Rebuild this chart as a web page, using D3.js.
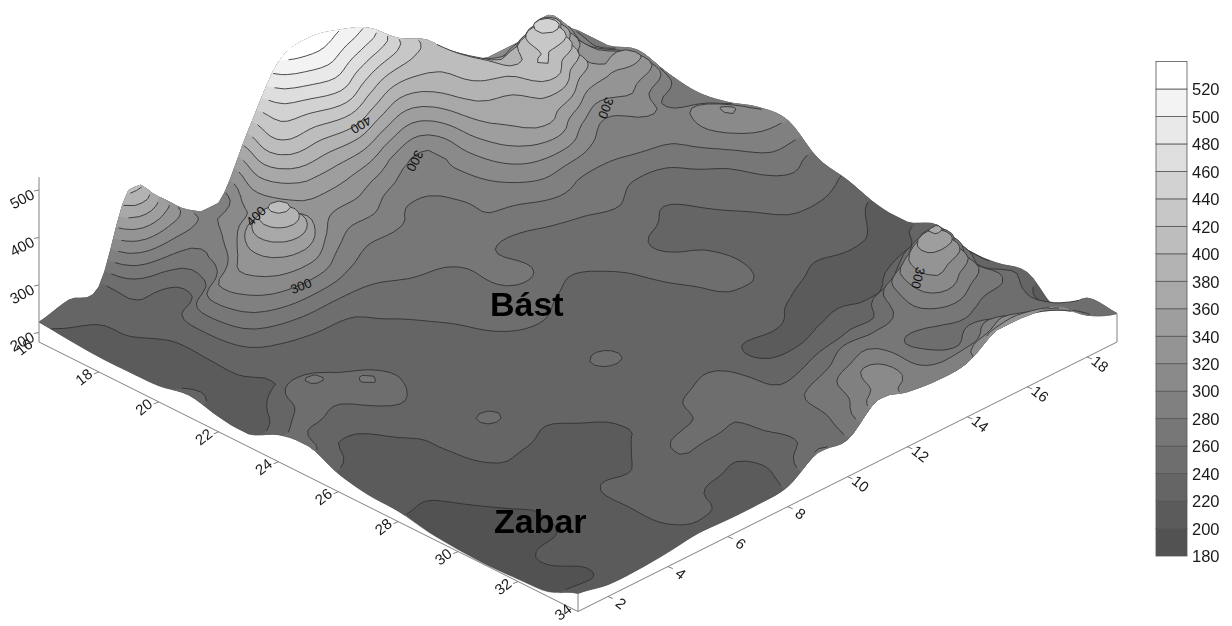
<!DOCTYPE html>
<html>
<head>
<meta charset="utf-8">
<script src="https://cdn.jsdelivr.net/npm/d3@7"></script>
<style>
  html, body { margin: 0; background: #fff; }
  svg { display: block; }
  text { font-family: "Liberation Sans", Arial, sans-serif; }
</style>
</head>
<body>
<div id="chart"></div>
<script>
  'use strict';

  // Elevation, one array per y value, x running 16..34.
  var xValues = d3.range( 16, 35 );
  var yValues = d3.range( 1, 20 );

  var rowY1 = [ 222, 216, 212, 212, 214, 226, 212, 207, 237, 245, 218, 205, 202, 190, 184, 182, 185, 190, 218 ];
  var rowY2 = [ 237, 221, 219, 210, 210, 212, 210, 228, 245, 220, 212, 206, 201, 196, 190, 190, 205, 197, 205 ];
  var rowY3 = [ 233, 240, 232, 232, 232, 228, 221, 262, 241, 224, 218, 215, 212, 205, 199, 198, 206, 208, 205 ];
  var rowY4 = [ 405, 258, 236, 300, 288, 241, 228, 241, 262, 241, 224, 225, 222, 215, 203, 210, 212, 214, 210 ];
  var rowY5 = [ 359, 278, 285, 335, 320, 250, 228, 232, 238, 230, 227, 243, 224, 213, 212, 222, 223, 222, 218 ];
  var rowY6 = [ 300, 300, 335, 411, 330, 250, 235, 232, 232, 229, 226, 230, 219, 214, 212, 222, 228, 224, 216 ];
  var rowY7 = [ 283, 330, 330, 345, 295, 256, 243, 237, 233, 232, 231, 230, 225, 218, 222, 239, 235, 208, 216 ];
  var rowY8 = [ 405, 425, 357, 312, 277, 264, 252, 245, 241, 235, 232, 234, 230, 226, 226, 246, 224, 214, 222 ];
  var rowY9 = [ 517, 440, 355, 308, 276, 265, 257, 255, 250, 236, 233, 243, 230, 228, 248, 241, 238, 235, 262 ];
  var rowY10 = [ 536, 470, 345, 286, 275, 268, 264, 268, 243, 234, 232, 232, 231, 238, 252, 248, 248, 250, 258 ];
  var rowY11 = [ 521, 425, 310, 285, 277, 277, 250, 248, 236, 234, 233, 232, 232, 234, 236, 243, 268, 278, 310 ];
  var rowY12 = [ 494, 385, 300, 305, 300, 280, 258, 248, 241, 237, 235, 233, 225, 217, 230, 250, 282, 310, 296 ];
  var rowY13 = [ 441, 400, 380, 362, 340, 295, 263, 252, 245, 245, 241, 238, 228, 216, 232, 265, 285, 285, 289 ];
  var rowY14 = [ 405, 405, 410, 375, 365, 285, 267, 250, 233, 242, 246, 238, 219, 219, 238, 262, 262, 273, 294 ];
  var rowY15 = [ 338, 367, 395, 420, 325, 283, 256, 238, 232, 233, 232, 226, 212, 222, 243, 270, 254, 268, 332 ];
  var rowY16 = [ 306, 352, 458, 365, 295, 290, 258, 250, 241, 235, 232, 219, 212, 218, 317, 320, 258, 294, 330 ];
  var rowY17 = [ 306, 395, 342, 342, 315, 290, 284, 259, 250, 243, 232, 222, 208, 260, 363, 290, 245, 270, 317 ];
  var rowY18 = [ 332, 310, 320, 345, 272, 300, 322, 295, 265, 245, 227, 218, 218, 300, 258, 262, 245, 254, 268 ];
  var rowY19 = [ 268, 268, 290, 273, 264, 275, 296, 300, 252, 237, 216, 212, 237, 216, 220, 232, 188, 241, 240 ];

  var elevationRows = [ rowY1, rowY2, rowY3, rowY4, rowY5, rowY6, rowY7, rowY8, rowY9, rowY10,
    rowY11, rowY12, rowY13, rowY14, rowY15, rowY16, rowY17, rowY18, rowY19 ];

  // Contour levels and the grey of the band that starts at each level.
  var levels = d3.range( 180, 540, 20 );
  var bandGreys = [ '#525252', '#5b5b5b', '#656565', '#6e6e6e', '#777777', '#808080', '#8a8a8a', '#949494', '#9e9e9e',
    '#a8a8a8', '#b3b3b3', '#bdbdbd', '#c7c7c7', '#d2d2d2', '#dedede', '#e9e9e9', '#f3f3f3', '#ffffff' ];

  var legendTicks = d3.range( 180, 540, 20 );
  var heightTicks = [ 200, 300, 400, 500 ];
  var xTicks = d3.range( 16, 36, 2 );
  var yTicks = d3.range( 2, 20, 2 );

  // Text on the surface, with the contour labels placed along their lines.
  var placeNames = [
    { label: 'Bást', x: 490, y: 316 },
    { label: 'Zabar', x: 494, y: 533 }
  ];
  var contourLabels = [
    { label: '300', x: 301, y: 286, angle: -22 },
    { label: '300', x: 415, y: 161, angle: 118 },
    { label: '400', x: 361, y: 125, angle: 148 },
    { label: '300', x: 606, y: 108, angle: 112 },
    { label: '300', x: 918, y: 278, angle: 105 },
    { label: '400', x: 256, y: 216, angle: -45 }
  ];

  var width = 1232;
  var height = 626;

  // Oblique view: x runs down to the right, y up to the right, elevation straight up.
  var scaleX = d3.scaleLinear().domain( [ 16, 34 ] ).range( [ 0, 539 ] );
  var scaleY = d3.scaleLinear().domain( [ 1, 19 ] ).range( [ 0, 539 ] );
  var scaleZ = d3.scaleLinear().domain( [ 180, 540 ] ).range( [ 0, 171 ] );
  var origin = { left: 39, top: 342 };

  function project( x, y, z ) {
    return [
      origin.left + scaleX( x ) + scaleY( y ),
      origin.top + scaleX( x ) / 2 - scaleY( y ) / 2 - scaleZ( z )
    ];
  }

  // Resample the read grid through its own nodes so the contours run smooth,
  // held inside each cell's corner range so that the steep peaks do not ring.
  var refine = 5;
  var nCols = ( xValues.length - 1 ) * refine + 1;
  var nRows = ( yValues.length - 1 ) * refine + 1;

  function spline( a, b, c, d, t ) {
    return b + 0.5 * t * ( c - a + t * ( 2 * a - 5 * b + 4 * c - d + t * ( 3 * ( b - c ) + d - a ) ) );
  }

  function node( i, j ) {
    var ii = Math.max( 0, Math.min( xValues.length - 1, i ) );
    var jj = Math.max( 0, Math.min( yValues.length - 1, j ) );
    return elevationRows[ jj ][ ii ];
  }

  function resample() {
    var out = new Float64Array( nCols * nRows );
    d3.range( nRows ).forEach( function( j ) {
      var j0 = Math.min( Math.floor( j / refine ), yValues.length - 2 ), ty = j / refine - j0;
      d3.range( nCols ).forEach( function( i ) {
        var i0 = Math.min( Math.floor( i / refine ), xValues.length - 2 ), tx = i / refine - i0;
        var across = [ -1, 0, 1, 2 ].map( function( dj ) {
          return spline( node( i0 - 1, j0 + dj ), node( i0, j0 + dj ), node( i0 + 1, j0 + dj ), node( i0 + 2, j0 + dj ), tx );
        } );
        var v = spline( across[ 0 ], across[ 1 ], across[ 2 ], across[ 3 ], ty );
        var corners = [ node( i0, j0 ), node( i0 + 1, j0 ), node( i0, j0 + 1 ), node( i0 + 1, j0 + 1 ) ];
        out[ j * nCols + i ] = Math.max( d3.min( corners ), Math.min( d3.max( corners ), v ) );
      } );
    } );
    return out;
  }

  var surface = resample();

  function surfaceAt( gx, gy ) {
    var i0 = Math.min( Math.floor( gx ), nCols - 2 ), j0 = Math.min( Math.floor( gy ), nRows - 2 );
    var tx = gx - i0, ty = gy - j0;
    return surface[ j0 * nCols + i0 ] * ( 1 - tx ) * ( 1 - ty ) + surface[ j0 * nCols + i0 + 1 ] * tx * ( 1 - ty ) +
      surface[ ( j0 + 1 ) * nCols + i0 ] * ( 1 - tx ) * ty + surface[ ( j0 + 1 ) * nCols + i0 + 1 ] * tx * ty;
  }

  // Contour vertices sit half a cell off the grid nodes in d3.contours.
  function toScreen( pt ) {
    var gx = Math.max( 0, Math.min( nCols - 1, pt[ 0 ] - 0.5 ) );
    var gy = Math.max( 0, Math.min( nRows - 1, pt[ 1 ] - 0.5 ) );
    var p = project( 16 + gx / refine, 1 + gy / refine, surfaceAt( gx, gy ) );
    p.border = gx <= 0 || gy <= 0 || gx >= nCols - 1 || gy >= nRows - 1;
    return p;
  }

  var svg = d3.select( '#chart' ).append( 'svg' )
    .attr( 'width', width )
    .attr( 'height', height );

  var contours = d3.contours().size( [ nCols, nRows ] ).thresholds( levels )( surface );

  var fillLine = d3.line().curve( d3.curveLinearClosed );
  var strokeLine = d3.line().defined( function( d ) { return !d.border; } );

  var surfaceGroup = svg.append( 'g' ).attr( 'class', 'surface' ).style( 'filter', 'blur(0.35px)' );

  // Lowest level first, so each higher region paints over the one it sits on.
  contours.forEach( function( band, b ) {
    band.coordinates.forEach( function( polygon ) {
      var rings = polygon.map( function( ring ) { return ring.map( toScreen ); } );
      surfaceGroup.append( 'path' )
        .attr( 'd', rings.map( fillLine ).join( '' ) )
        .attr( 'fill', bandGreys[ b ] )
        .attr( 'fill-rule', 'evenodd' )
        .attr( 'stroke', bandGreys[ b ] )
        .attr( 'stroke-width', 0.4 );
      if ( b > 0 ) {
        surfaceGroup.append( 'path' )
          .attr( 'd', rings.map( strokeLine ).join( '' ) )
          .attr( 'fill', 'none' )
          .attr( 'stroke', '#2e2e2e' )
          .attr( 'stroke-opacity', 0.85 )
          .attr( 'stroke-width', 1 );
      }
    } );
  } );

  // Axes of the box
  var axisGroup = svg.append( 'g' ).attr( 'class', 'axes' ).attr( 'stroke', '#808080' ).attr( 'fill', 'none' );

  function segment( a, b ) {
    axisGroup.append( 'line' )
      .attr( 'x1', a[ 0 ] ).attr( 'y1', a[ 1 ] )
      .attr( 'x2', b[ 0 ] ).attr( 'y2', b[ 1 ] );
  }

  segment( project( 16, 1, 180 ), project( 34, 1, 180 ) );
  segment( project( 34, 1, 180 ), project( 34, 19, 180 ) );
  segment( project( 16, 1, 180 ), project( 16, 1, 527 ) );
  segment( project( 34, 1, 180 ), project( 34, 1, rowY1[ 18 ] ) );
  segment( project( 34, 19, 180 ), project( 34, 19, rowY19[ 18 ] ) );

  var labelGroup = svg.append( 'g' ).attr( 'class', 'axis-labels' )
    .attr( 'fill', '#1a1a1a' )
    .style( 'font-size', '15px' )
    .style( 'filter', 'blur(0.4px)' );

  heightTicks.forEach( function( d ) {
    var p = project( 16, 1, d );
    segment( p, [ p[ 0 ] - 5, p[ 1 ] + 1 ] );
    labelGroup.append( 'text' )
      .attr( 'transform', 'translate(' + ( p[ 0 ] - 17 ) + ',' + ( p[ 1 ] + 9 ) + ') rotate(-28)' )
      .attr( 'text-anchor', 'middle' )
      .attr( 'dy', '.35em' )
      .text( d );
  } );

  xTicks.forEach( function( d ) {
    var p = project( d, 1, 180 );
    if ( d > 16 && d < 34 ) segment( p, [ p[ 0 ] - 5, p[ 1 ] + 2 ] );
    // The last label would run past the bottom of the page.
    labelGroup.append( 'text' )
      .attr( 'transform', 'translate(' + ( p[ 0 ] - 15 ) + ',' + Math.min( p[ 1 ] + 5, 612 ) + ') rotate(-38)' )
      .attr( 'text-anchor', 'middle' )
      .attr( 'dy', '.35em' )
      .text( d );
  } );

  yTicks.forEach( function( d ) {
    var p = project( 34, d, 180 );
    segment( p, [ p[ 0 ] + 5, p[ 1 ] + 2 ] );
    labelGroup.append( 'text' )
      .attr( 'transform', 'translate(' + ( p[ 0 ] + 13 ) + ',' + ( p[ 1 ] + 7 ) + ') rotate(38)' )
      .attr( 'text-anchor', 'middle' )
      .attr( 'dy', '.35em' )
      .text( d );
  } );

  // Labels on the surface
  var surfaceText = svg.append( 'g' ).attr( 'class', 'surface-text' );

  surfaceText.selectAll( '.contour-label' )
    .data( contourLabels )
    .enter().append( 'text' )
    .attr( 'class', 'contour-label' )
    .attr( 'transform', function( d ) { return 'translate(' + d.x + ',' + d.y + ') rotate(' + d.angle + ')'; } )
    .attr( 'text-anchor', 'middle' )
    .attr( 'dy', '.35em' )
    .style( 'font-size', '13px' )
    .attr( 'fill', '#111' )
    .text( function( d ) { return d.label; } );

  surfaceText.selectAll( '.place-name' )
    .data( placeNames )
    .enter().append( 'text' )
    .attr( 'class', 'place-name' )
    .attr( 'x', function( d ) { return d.x; } )
    .attr( 'y', function( d ) { return d.y; } )
    .style( 'font-size', '34px' )
    .style( 'font-weight', 'bold' )
    .attr( 'fill', '#000' )
    .text( function( d ) { return d.label; } );

  // Colour scale on the right
  var legendScale = d3.scaleLinear().domain( [ 180, 520 ] ).range( [ 556, 89 ] );
  var legend = svg.append( 'g' ).attr( 'class', 'legend' ).style( 'filter', 'blur(0.4px)' );

  levels.forEach( function( d, i ) {
    legend.append( 'rect' )
      .attr( 'x', 1156 )
      .attr( 'width', 31 )
      .attr( 'y', legendScale( d + 20 ) )
      .attr( 'height', legendScale( d ) - legendScale( d + 20 ) )
      .attr( 'fill', bandGreys[ i ] )
      .attr( 'stroke', '#555' )
      .attr( 'stroke-width', 0.8 );
  } );

  legendTicks.forEach( function( d ) {
    legend.append( 'text' )
      .attr( 'x', 1192 )
      .attr( 'y', legendScale( d ) )
      .attr( 'dy', '.38em' )
      .attr( 'fill', '#1a1a1a' )
      .style( 'font-size', '16.5px' )
      .text( d );
  } );
</script>
</body>
</html>
